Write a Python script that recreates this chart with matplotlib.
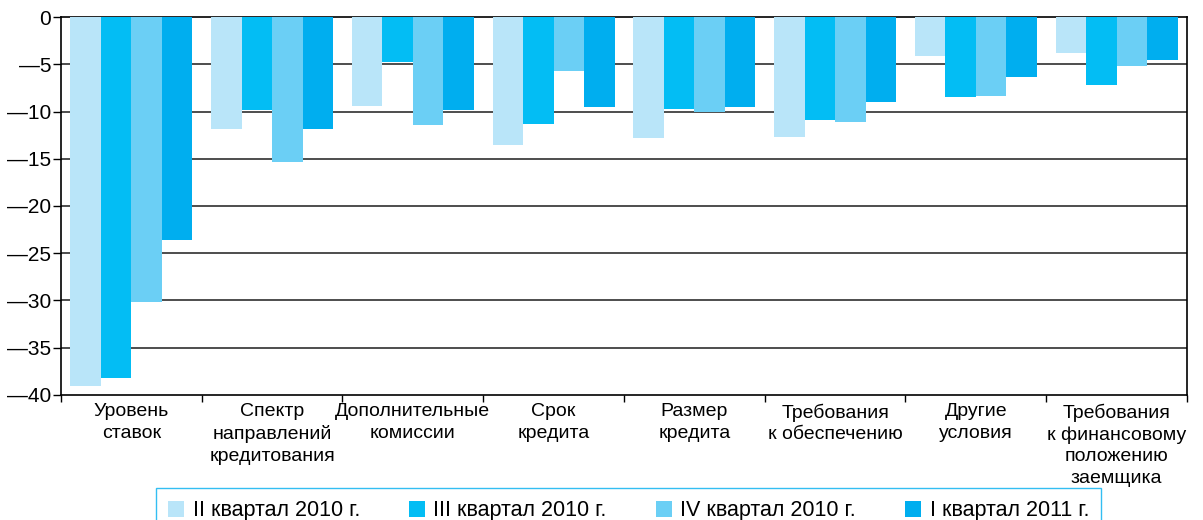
import numpy as np
import matplotlib
matplotlib.use('Agg')
import matplotlib.pyplot as plt

plt.rcParams['font.family'] = ['Liberation Sans', 'DejaVu Sans']

categories = ['Уровень\nставок', 'Спектр\nнаправлений\nкредитования',
              'Дополнительные\nкомиссии', 'Срок\nкредита', 'Размер\nкредита',
              'Требования\nк обеспечению', 'Другие\nусловия',
              'Требования\nк финансовому\nположению\nзаемщика']
series_names = ['II квартал 2010 г.', 'III квартал 2010 г.',
                'IV квартал 2010 г.', 'I квартал 2011 г.']
q2_2010 = [-39.0, -11.8, -9.4, -13.5, -12.8, -12.7, -4.1, -3.8]
q3_2010 = [-38.2, -9.8, -4.8, -11.3, -9.7, -10.9, -8.5, -7.2]
q4_2010 = [-30.2, -15.3, -11.4, -5.7, -10.0, -11.1, -8.4, -5.2]
q1_2011 = [-23.6, -11.8, -9.8, -9.5, -9.5, -9.0, -6.3, -4.5]
yticks = [0, -5, -10, -15, -20, -25, -30, -35, -40]

colors = ['#B9E5F9', '#03BDF4', '#6BCFF5', '#00AEEF']
data = [q2_2010, q3_2010, q4_2010, q1_2011]

fig = plt.figure(figsize=(12.03, 5.2), dpi=100)
ax = fig.add_axes([0.0507, 0.2404, 0.9360, 0.7269])

x = np.arange(len(categories))
w = 0.217
for i, (vals, c, name) in enumerate(zip(data, colors, series_names)):
    ax.bar(x + (i - 1.5) * w, vals, width=w, color=c, label=name, zorder=3)

ax.set_xlim(-0.5, len(categories) - 0.5)
ax.set_ylim(-40, 0)
ax.set_yticks(yticks)
ax.set_yticklabels(['0' if v == 0 else '\u2014' + str(-v) for v in yticks], fontsize=15)
ax.tick_params(axis='y', length=6, width=1, pad=1)

ax.set_xticks(x)
ax.set_xticklabels(categories, fontsize=14, linespacing=1.35)
ax.tick_params(axis='x', which='major', length=0, pad=6)
ax.set_xticks(np.arange(-0.5, len(categories), 1), minor=True)
ax.tick_params(axis='x', which='minor', length=5, width=1)

for v in yticks[1:-1]:
    ax.axhline(v, color='#4d4d4d', lw=1.4, zorder=1)

for s in ax.spines.values():
    s.set_color('black')
    s.set_linewidth(1.2)

leg = fig.legend(loc='upper left', bbox_to_anchor=(156 / 1203, 1 - 489 / 520, 945 / 1203, 0.001),
                 mode='expand', ncol=4, fontsize=15.5, frameon=True, fancybox=False,
                 handlelength=0.75, handleheight=0.75, handletextpad=0.4,
                 borderaxespad=0, borderpad=0.55)
leg.get_frame().set_edgecolor('#00AEEF')
leg.get_frame().set_linewidth(1)

fig.savefig('out.png', dpi=100)
